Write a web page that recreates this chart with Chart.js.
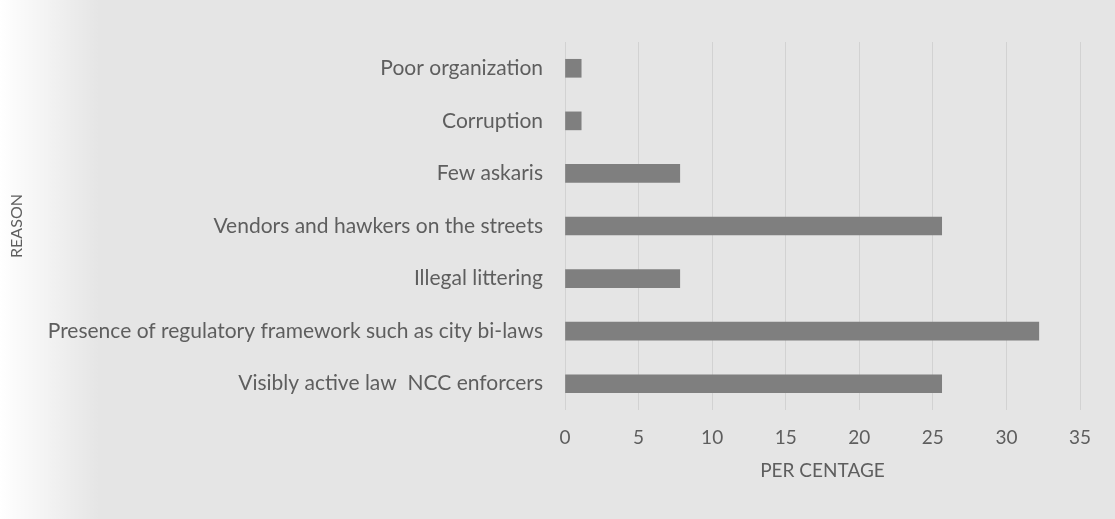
<!DOCTYPE html>
<html>
<head>
<meta charset="utf-8">
<script src="https://cdn.jsdelivr.net/npm/chart.js@4"></script>
<style>
  html, body { margin: 0; padding: 0; background: #e6e6e6; }
  #wrap { width: 1115px; height: 519px; }
</style>
</head>
<body>
<div id="wrap"><canvas id="c" width="1115" height="519"></canvas></div>
<script>
// Reasons, listed top to bottom
const reasons = [
  'Poor organization',
  'Corruption',
  'Few askaris',
  'Vendors and hawkers on the streets',
  'Illegal littering',
  'Presence of regulatory framework such as city bi-laws',
  'Visibly active law  NCC enforcers'
];
// Share of respondents (%)
const percentages = [1.1, 1.1, 7.8, 25.6, 7.8, 32.2, 25.6];
const xTicks = [0, 5, 10, 15, 20, 25, 30, 35];

const textColor = '#5e5e5e';
const fontFamily = 'Lato, "Open Sans", sans-serif';

// Page background: light grey with a paler left margin
const backdrop = {
  id: 'backdrop',
  beforeDraw(chart) {
    const { ctx, width, height } = chart;
    ctx.save();
    ctx.fillStyle = '#e5e5e5';
    ctx.fillRect(0, 0, width, height);
    const g = ctx.createLinearGradient(0, 0, 100, 0);
    g.addColorStop(0, 'rgba(255,255,255,1)');
    g.addColorStop(0.35, 'rgba(255,255,255,0.65)');
    g.addColorStop(1, 'rgba(255,255,255,0)');
    ctx.fillStyle = g;
    ctx.fillRect(0, 0, 100, height);
    ctx.restore();
  }
};

new Chart(document.getElementById('c'), {
  type: 'bar',
  data: {
    labels: reasons,
    datasets: [{
      data: percentages,
      backgroundColor: '#7f7f7f',
      borderWidth: 0,
      barThickness: 18
    }]
  },
  options: {
    indexAxis: 'y',
    responsive: false,
    animation: false,
    layout: { padding: { top: 42, right: 35, left: 0, bottom: 0 } },
    plugins: { legend: { display: false }, tooltip: { enabled: false } },
    scales: {
      x: {
        min: 0,
        max: 35,
        afterBuildTicks(scale) { scale.ticks = xTicks.map(v => ({ value: v })); },
        afterFit(scale) { scale.height = 109; },
        grid: { color: '#d2d2d2', lineWidth: 1, drawTicks: false },
        border: { display: false },
        ticks: { color: textColor, padding: 16, font: { family: fontFamily, size: 19 } },
        title: {
          display: true,
          text: 'PER CENTAGE',
          color: textColor,
          font: { family: fontFamily, size: 19 },
          padding: { top: 0, bottom: 37 }
        }
      },
      y: {
        afterFit(scale) { scale.width = 565; },
        grid: { display: false, drawTicks: false },
        border: { display: false },
        ticks: { color: textColor, padding: 22, font: { family: fontFamily, size: 21 } },
        title: {
          display: true,
          text: 'REASON',
          color: textColor,
          font: { family: fontFamily, size: 16 },
          padding: { top: 7, bottom: 0 }
        }
      }
    }
  },
  plugins: [backdrop]
});
</script>
</body>
</html>
